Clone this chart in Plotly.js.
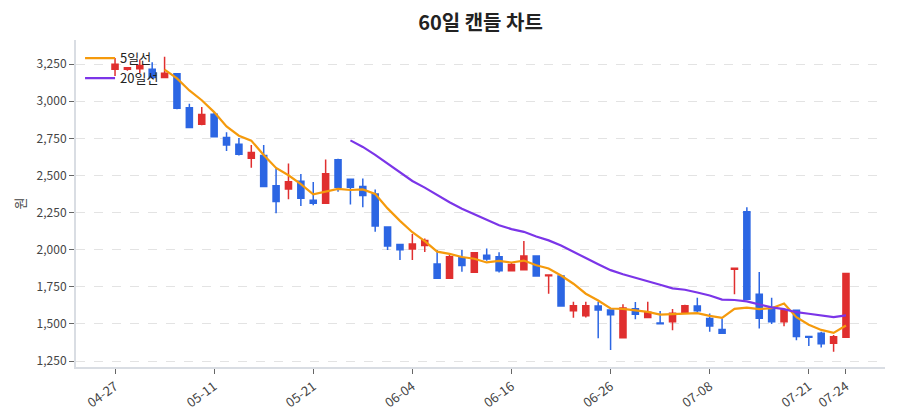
<!DOCTYPE html>
<html>
<head>
<meta charset="utf-8">
<script src="https://cdn.plot.ly/plotly-3.0.1.min.js"></script>
<style>
  html, body { margin: 0; padding: 0; background: #ffffff; }
  #chart { width: 900px; height: 420px; }
</style>
</head>
<body>
<div id="chart"></div>
<script>
// Trading days (MM-DD)
const dates = [
  '04-27','04-28','04-29','04-30','05-04','05-06','05-07','05-08','05-11','05-12',
  '05-13','05-14','05-15','05-18','05-19','05-20','05-21','05-22','05-26','05-27',
  '05-28','05-29','06-01','06-02','06-04','06-05','06-08','06-09','06-10','06-11',
  '06-12','06-15','06-16','06-17','06-18','06-19','06-22','06-23','06-24','06-25',
  '06-26','06-29','06-30','07-01','07-02','07-03','07-06','07-07','07-08','07-09',
  '07-10','07-13','07-14','07-15','07-16','07-20','07-21','07-22','07-23','07-24'
];

const openPx = [
  3215,3215,3218,3215,3160,3185,2955,2845,2912,2755,
  2710,2615,2635,2430,2408,2460,2333,2312,2605,2475,
  2425,2375,2152,2035,2005,2028,1903,1808,1945,1848,
  1963,1952,1858,1865,1957,1825,1822,1588,1555,1620,
  1593,1407,1603,1543,1507,1515,1578,1620,1537,1462,
  1868,2255,1700,1610,1515,1592,1415,1437,1370,1410
];
const highPx = [
  3290,3230,3280,3262,3300,3190,2982,2960,2925,2790,
  2752,2705,2705,2548,2580,2510,2455,2608,2612,2478,
  2480,2405,2155,2035,2105,2075,1998,1968,1998,1982,
  2008,1982,1910,2058,1960,1832,1825,1650,1650,1650,
  1598,1632,1648,1650,1587,1600,1630,1677,1570,1537,
  1877,2285,1850,1677,1595,1595,1416,1448,1425,1842
];
const lowPx = [
  3170,3205,3190,3158,3158,2945,2818,2838,2758,2665,
  2635,2552,2420,2245,2340,2295,2300,2310,2390,2305,
  2285,2120,1998,1930,1930,1985,1803,1805,1852,1845,
  1925,1847,1855,1860,1820,1703,1618,1542,1543,1403,
  1325,1405,1532,1540,1500,1458,1570,1578,1448,1433,
  1700,1662,1470,1500,1485,1390,1352,1342,1312,1408
];
const closePx = [
  3248,3225,3240,3160,3188,2952,2822,2910,2760,2705,
  2642,2655,2425,2325,2458,2346,2312,2512,2420,2420,
  2365,2160,2025,2000,2038,2062,1808,1952,1893,1980,
  1938,1858,1900,1958,1823,1830,1620,1622,1622,1594,
  1562,1608,1566,1578,1502,1572,1622,1588,1486,1437,
  1875,1666,1538,1515,1593,1415,1410,1366,1414,1840
];

const tickDates = ['04-27','05-11','05-21','06-04','06-16','06-26','07-08','07-21','07-24'];

// Simple moving average of closing prices; null until the window is full
function movingAverage(values, n) {
  return values.map((_, i) => {
    if (i < n - 1) return null;
    let s = 0;
    for (let k = i - n + 1; k <= i; k++) s += values[k];
    return s / n;
  });
}

const ma5 = movingAverage(closePx, 5);
const ma20 = movingAverage(closePx, 20);

const UP = '#e02f2f';
const DOWN = '#2c66e3';

const traces = [
  {
    type: 'candlestick',
    x: dates,
    open: openPx, high: highPx, low: lowPx, close: closePx,
    increasing: { line: { color: UP, width: 1.5 }, fillcolor: UP },
    decreasing: { line: { color: DOWN, width: 1.5 }, fillcolor: DOWN },
    whiskerwidth: 0,
    showlegend: false,
    hoverinfo: 'x+y'
  },
  {
    type: 'scatter', mode: 'lines', name: '5일선',
    x: dates, y: ma5,
    line: { color: '#f59a0c', width: 2.2 }
  },
  {
    type: 'scatter', mode: 'lines', name: '20일선',
    x: dates, y: ma20,
    line: { color: '#7b35e8', width: 2.2 }
  }
];

const fontFamily = '"Noto Sans CJK KR", "Noto Sans", sans-serif';

const layout = {
  width: 900, height: 420,
  margin: { l: 76, r: 15, t: 40, b: 53 },
  paper_bgcolor: '#ffffff',
  plot_bgcolor: '#ffffff',
  font: { family: fontFamily, size: 12, color: '#444' },
  title: {
    text: '<b>60일 캔들 차트</b>',
    xref: 'paper', x: 0.5, xanchor: 'center',
    yref: 'container', y: 0.945, yanchor: 'middle',
    font: { family: fontFamily, size: 20, color: '#222' }
  },
  showlegend: true,
  legend: {
    x: 0.005, y: 0.99, xanchor: 'left', yanchor: 'top',
    bgcolor: 'rgba(0,0,0,0)',
    font: { family: fontFamily, size: 13, color: '#222' },
    tracegroupgap: 0
  },
  xaxis: {
    type: 'category',
    range: [-3.15, 62.15],
    rangeslider: { visible: false },
    tickmode: 'array',
    tickvals: tickDates,
    ticktext: tickDates,
    tickangle: -36,
    ticks: 'outside', ticklen: 5, tickcolor: '#666',
    showgrid: false,
    showline: true, linecolor: '#d9dde3', linewidth: 2,
    tickfont: { family: fontFamily, size: 13, color: '#444' }
  },
  yaxis: {
    range: [1210, 3412],
    tickmode: 'linear', tick0: 1250, dtick: 250,
    tickformat: ',d',
    ticks: 'outside', ticklen: 5, tickcolor: '#666',
    showgrid: true, gridcolor: '#e3e3e3', griddash: 'dash', gridwidth: 1,
    zeroline: false,
    showline: true, linecolor: '#d9dde3', linewidth: 2,
    tickfont: { family: fontFamily, size: 12, color: '#444' },
    title: { text: '원', font: { family: fontFamily, size: 13, color: '#444' }, standoff: 8 }
  }
};

Plotly.newPlot('chart', traces, layout, { displayModeBar: false, responsive: false });
</script>
</body>
</html>
